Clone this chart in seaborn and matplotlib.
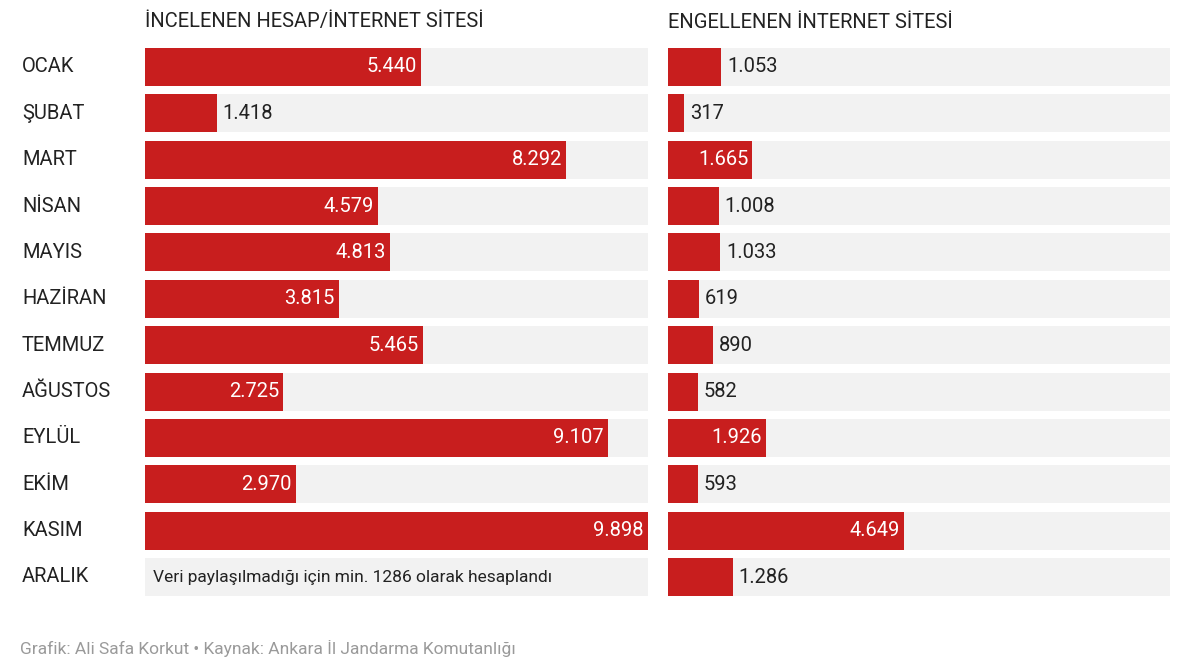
import numpy as np
import pandas as pd
import matplotlib.pyplot as plt
import seaborn as sns

aylar = ["OCAK", "ŞUBAT", "MART", "NİSAN", "MAYIS", "HAZİRAN", "TEMMUZ",
         "AĞUSTOS", "EYLÜL", "EKİM", "KASIM", "ARALIK"]
incelenen = [5440, 1418, 8292, 4579, 4813, 3815, 5465, 2725, 9107, 2970, 9898, np.nan]
engellenen = [1053, 317, 1665, 1008, 1033, 619, 890, 582, 1926, 593, 4649, 1286]

KIRMIZI = "#c81e1e"
GRI = "#f2f2f2"
YAZI = "#222222"
W, H = 1200, 664
MAKS = 9898

sns.set_theme(style="white")
plt.rcParams["font.family"] = ["Roboto", "DejaVu Sans"]

fig = plt.figure(figsize=(W / 100, H / 100), dpi=100)
fig.patch.set_facecolor("white")

def fmt(v):
    return f"{int(v):,}".replace(",", ".")

def panel(x0, x1, degerler, baslik):
    top, bot = 43.8, 600.2
    ax = fig.add_axes([x0 / W, 1 - bot / H, (x1 - x0) / W, (bot - top) / H])
    df = pd.DataFrame({"ay": aylar, "deger": degerler, "tam": [MAKS] * len(aylar)})
    sns.barplot(data=df, y="ay", x="tam", color=GRI, width=0.82, ax=ax,
                saturation=1, edgecolor="none")
    sns.barplot(data=df, y="ay", x="deger", color=KIRMIZI, width=0.82, ax=ax,
                saturation=1, edgecolor="none")
    ax.set_xlim(0, MAKS)
    ax.set_ylim(len(aylar) - 0.5, -0.5)
    ax.axis("off")
    for i, v in enumerate(degerler):
        if np.isnan(v):
            continue
        if v > 1500:
            ax.text(v - 80, i, fmt(v), color="white", ha="right", va="center", fontsize=14.5)
        else:
            ax.text(v + 110, i, fmt(v), color=YAZI, ha="left", va="center", fontsize=14.5)
    fig.text(x0 / W, 1 - 22 / H, baslik, color=YAZI, ha="left", va="center", fontsize=14.5)
    return ax

ax1 = panel(145, 648, incelenen, "İNCELENEN HESAP/İNTERNET SİTESİ")
ax2 = panel(668, 1170, engellenen, "ENGELLENEN İNTERNET SİTESİ")

ax1.text(150, 11, "Veri paylaşılmadığı için min. 1286 olarak hesaplandı",
         color=YAZI, ha="left", va="center", fontsize=12.5)

for i, ay in enumerate(aylar):
    fig.text(22 / W, 1 - (67 + i * 46.36) / H, ay, color=YAZI, ha="left",
             va="center", fontsize=14.5)

fig.text(20 / W, 1 - 648 / H,
         "Grafik: Ali Safa Korkut • Kaynak: Ankara İl Jandarma Komutanlığı",
         color="#9a9a9a", ha="left", va="center", fontsize=12.5)

fig.savefig("out.png", dpi=100, facecolor="white")
